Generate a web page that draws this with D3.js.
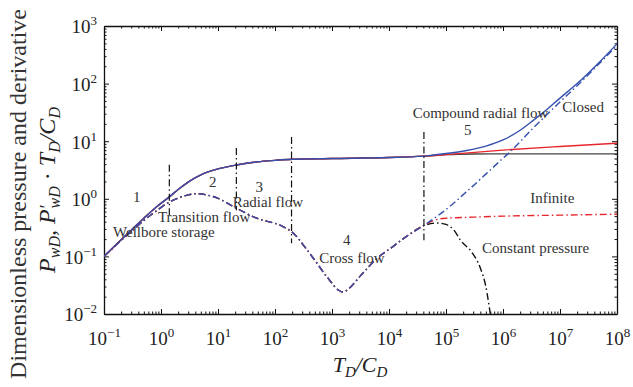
<!DOCTYPE html>
<html><head><meta charset="utf-8">
<script src="https://cdn.jsdelivr.net/npm/d3@7"></script>
<style>
body{margin:0;background:#fff}
text{font-family:"Liberation Serif","DejaVu Serif",serif}
</style>
</head><body>
<svg id="c" width="633" height="387"></svg>
<script>
// ---------- data ----------
const xTickExps = [-1,0,1,2,3,4,5,6,7,8];
const yTickExps = [-2,-1,0,1,2,3];

// pressure, shared early part
const pressEarlyX = [0.1,0.2,0.3,0.5,0.8,1.4,2,3,5,10,21,50,100,200,1000,1e4,4e4];
const pressEarlyY = [0.1,0.195,0.285,0.46,0.7,1.08,1.45,1.95,2.6,3.3,3.86,4.4,4.65,4.85,5.0,5.2,5.5];
// pressure tails
const pressConstX = [4e4,1e5,3e5,1e6,1e7,1e8];
const pressConstY = [5.5,5.85,6.0,6.02,6.02,6.02];
const pressInfX = [4e4,1e5,1e6,1e7,1e8];
const pressInfY = [5.5,5.85,7.0,8.1,9.25];
const pressClosedX = [4e4,6e4,1e5,2.3e5,5e5,1e6,2e6,3.4e6,5e6,1e7,2e7,5e7,1e8];
const pressClosedY = [5.5,5.75,6.1,6.9,8.2,10.5,15.5,23,31,56,100,240,490];

// derivative, shared early part
const derivEarlyX = [0.1,0.2,0.3,0.5,0.8,1.4,2,3,4.2,6,10,18.7,48,138,195,400,900,1300,1550,2000,3100,6000,1.17e4,2e4,4e4];
const derivEarlyY = [0.1,0.19,0.27,0.42,0.6,0.88,1.03,1.17,1.23,1.18,1.02,0.73,0.46,0.33,0.27,0.115,0.039,0.026,0.024,0.028,0.045,0.09,0.148,0.22,0.34];
// derivative tails
const derivConstX = [4e4,7e4,1e5,1.4e5,1.8e5,2.8e5,4e5,5e5,6e5,7e5];
const derivConstY = [0.34,0.38,0.36,0.28,0.19,0.12,0.063,0.03,0.01,0.004];
const derivInfX = [4e4,6e4,1e5,3e5,1e6,1e7,1e8];
const derivInfY = [0.34,0.42,0.46,0.48,0.5,0.52,0.54];
const derivClosedX = [4e4,9e4,2.3e5,9e5,1.3e6,3.4e6,1e7,2e7,1e8];
const derivClosedY = [0.36,0.6,1.33,4.6,6.4,17,48,92,460];

// flow-regime separators
const markerX  = [1.4,21,195,4.1e4];
const markerLo = [0.52,0.63,0.17,0.19];
const markerHi = [3.9,7.6,11.8,14.4];

// annotations
const labelText = ["1","2","3","4","5","Wellbore storage","Transition flow","Radial flow","Cross flow","Compound radial flow","Closed","Infinite","Constant pressure"];
const labelX    = [0.375,8.07,53,1810,2.4e5,0.144,0.885,18.1,598,2.6e4,1.1e7,3e6,4.3e5];
const labelY    = [0.89,1.62,1.32,0.158,12.8,0.215,0.40,0.73,0.0778,25,31.8,0.835,0.113];
const labelAnchor = ["middle","middle","middle","middle","middle","start","start","start","start","start","start","start","start"];

// ---------- chart ----------
const L=104,R=617,T=26,B=314;
const svg=d3.select('#c');
const x=d3.scaleLog().domain([1e-1,1e8]).range([L,R]);
const y=d3.scaleLog().domain([1e-2,1e3]).range([B,T]);

const xMajor=xTickExps.map(e=>Math.pow(10,e));
const yMajor=yTickExps.map(e=>Math.pow(10,e));
const minorOf=(exps)=>{const a=[];for(let i=0;i<exps.length-1;i++)for(let k=2;k<=9;k++)a.push(k*Math.pow(10,exps[i]));return a;};
const xMinor=minorOf(xTickExps), yMinor=minorOf(yTickExps);

svg.append('defs').append('clipPath').attr('id','clip')
  .append('rect').attr('x',L).attr('y',T).attr('width',R-L).attr('height',B-T);

const expStr=e=> (e<0?'\u2212':'')+Math.abs(e);

function styleAxis(g){
  g.attr('font-family','"Liberation Serif",serif');
  g.select('.domain').attr('stroke','#111').attr('stroke-width',1.3);
  g.selectAll('.tick line').attr('stroke','#111').attr('stroke-width',1);
}
// bottom
const gB=svg.append('g').attr('transform',`translate(0,${B})`)
  .call(d3.axisBottom(x).tickValues(xMajor).tickSizeInner(-5).tickSizeOuter(0));
styleAxis(gB);
gB.selectAll('.tick text').each(function(d){
  const t=d3.select(this); t.text(null).attr('y',31).attr('dy',null)
    .attr('font-size',19).attr('fill','#222').attr('text-anchor','middle');
  t.append('tspan').text('10');
  t.append('tspan').attr('font-size',13).attr('dy',-8).text(expStr(Math.round(Math.log10(d))));
});
svg.append('g').attr('transform',`translate(0,${B})`)
  .call(d3.axisBottom(x).tickValues(xMinor).tickSizeInner(-2.5).tickSizeOuter(0).tickFormat(''))
  .call(g=>{styleAxis(g);g.select('.domain').remove();});
// top
const gT=svg.append('g').attr('transform',`translate(0,${T})`)
  .call(d3.axisTop(x).tickValues(xMajor).tickSizeInner(-5).tickSizeOuter(0).tickFormat(''));
styleAxis(gT);
svg.append('g').attr('transform',`translate(0,${T})`)
  .call(d3.axisTop(x).tickValues(xMinor).tickSizeInner(-2.5).tickSizeOuter(0).tickFormat(''))
  .call(g=>{styleAxis(g);g.select('.domain').remove();});
// left
const gL=svg.append('g').attr('transform',`translate(${L},0)`)
  .call(d3.axisLeft(y).tickValues(yMajor).tickSizeInner(-5).tickSizeOuter(0));
styleAxis(gL);
gL.selectAll('.tick text').each(function(d){
  const t=d3.select(this); t.text(null).attr('x',-7).attr('dy','0.36em')
    .attr('font-size',19).attr('fill','#222').attr('text-anchor','end');
  t.append('tspan').text('10');
  t.append('tspan').attr('font-size',13).attr('dy',-8).text(expStr(Math.round(Math.log10(d))));
});
svg.append('g').attr('transform',`translate(${L},0)`)
  .call(d3.axisLeft(y).tickValues(yMinor).tickSizeInner(-2.5).tickSizeOuter(0).tickFormat(''))
  .call(g=>{styleAxis(g);g.select('.domain').remove();});
// right
const gR=svg.append('g').attr('transform',`translate(${R},0)`)
  .call(d3.axisRight(y).tickValues(yMajor).tickSizeInner(-5).tickSizeOuter(0).tickFormat(''));
styleAxis(gR);
svg.append('g').attr('transform',`translate(${R},0)`)
  .call(d3.axisRight(y).tickValues(yMinor).tickSizeInner(-2.5).tickSizeOuter(0).tickFormat(''))
  .call(g=>{styleAxis(g);g.select('.domain').remove();});

// curves
const line=d3.line().x(d=>x(d[0])).y(d=>y(d[1])).curve(d3.curveMonotoneX);
const join=(ex,ey,tx,ty)=>ex.map((v,i)=>[v,ey[i]]).concat(tx.slice(1).map((v,i)=>[v,ty[i+1]]));
const plot=svg.append('g').attr('clip-path','url(#clip)');
const DASH='7,3,1.5,3';
const RED='#e8262c', BLUE='#3550ad';
const curves=[
  {d:join(pressEarlyX,pressEarlyY,pressConstX,pressConstY),c:'#444',dash:null},
  {d:join(pressEarlyX,pressEarlyY,pressInfX,pressInfY),c:RED,dash:null},
  {d:join(pressEarlyX,pressEarlyY,pressClosedX,pressClosedY),c:BLUE,dash:null},
  {d:join(derivEarlyX,derivEarlyY,derivConstX,derivConstY),c:'#111',dash:DASH},
  {d:join(derivEarlyX,derivEarlyY,derivInfX,derivInfY),c:RED,dash:DASH},
  {d:join(derivEarlyX,derivEarlyY,derivClosedX,derivClosedY),c:BLUE,dash:DASH},
];
curves.forEach(k=>{
  plot.append('path').attr('d',line(k.d)).attr('fill','none')
    .attr('stroke',k.c).attr('stroke-width',1.4)
    .attr('stroke-dasharray',k.dash);
});

// separators
markerX.forEach((v,i)=>{
  svg.append('line').attr('x1',x(v)).attr('x2',x(v))
    .attr('y1',y(markerHi[i])).attr('y2',y(markerLo[i]))
    .attr('stroke','#111').attr('stroke-width',1.2).attr('stroke-dasharray',DASH);
});

// annotations
labelText.forEach((s,i)=>{
  svg.append('text').attr('x',x(labelX[i])).attr('y',y(labelY[i]))
    .attr('text-anchor',labelAnchor[i]).attr('font-size',15).attr('fill','#333').text(s);
});

// axis titles
const xt=svg.append('text').attr('x',360).attr('y',372).attr('text-anchor','middle')
  .attr('font-size',22).attr('font-style','italic').attr('fill','#222');
xt.append('tspan').text('T');
xt.append('tspan').attr('font-size',15).attr('dy',5).text('D');
xt.append('tspan').attr('dy',-5).text('/C');
xt.append('tspan').attr('font-size',15).attr('dy',5).text('D');

svg.append('text').attr('transform','translate(26,194) rotate(-90)')
  .attr('text-anchor','middle').attr('font-size',24).attr('fill','#333')
  .text('Dimensionless pressure and derivative');

const yt=svg.append('text').attr('transform','translate(55,190) rotate(-90)')
  .attr('text-anchor','middle').attr('font-size',24).attr('font-style','italic').attr('fill','#222');
yt.append('tspan').text('P');
yt.append('tspan').attr('font-size',16).attr('dy',5).text('wD');
yt.append('tspan').attr('dy',-5).text(', P');
yt.append('tspan').attr('font-size',18).attr('dy',-2).text('\u2032');
yt.append('tspan').attr('font-size',16).attr('dy',7).attr('dx',-3).text('wD');
yt.append('tspan').attr('dy',-5).attr('font-style','normal').text(' \u00b7 ');
yt.append('tspan').text('T');
yt.append('tspan').attr('font-size',16).attr('dy',5).text('D');
yt.append('tspan').attr('dy',-5).text('/C');
yt.append('tspan').attr('font-size',16).attr('dy',5).text('D');
</script>
</body></html>
